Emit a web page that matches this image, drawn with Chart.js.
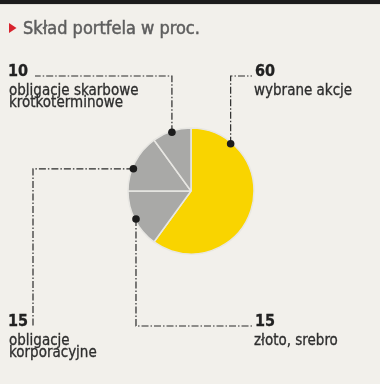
<!DOCTYPE html>
<html><head><meta charset="utf-8">
<script src="https://cdn.jsdelivr.net/npm/chart.js@4"></script>
<style>html,body{margin:0;padding:0;background:#f2f0eb;}canvas{display:block}</style>
</head><body>
<canvas id="c" width="380" height="384"></canvas>
<script>
const title = 'Skład portfela w proc.';
const categories = ['wybrane akcje', 'złoto, srebro', 'obligacje korporacyjne', 'obligacje skarbowe krótkoterminowe'];
const values = [60, 15, 15, 10];
const labelLines = [['wybrane akcje'], ['złoto, srebro'], ['obligacje', 'korporacyjne'], ['obligacje skarbowe', 'krótkoterminowe']];
const sliceColors = ['#f9d400', '#a9a9a7', '#a9a9a7', '#a9a9a7'];

const FONT = '"DejaVu Sans Condensed", "DejaVu Sans", sans-serif';
// layout of callouts (style/positions only)
const callouts = [
  {frac: 0.185, path: d => [[d.x, 76], [252, 76]], num: [255, 76], text: [254, 95]},
  {frac: 0.5, path: d => [[d.x, 326], [252, 326]], num: [255, 326], text: [254, 345]},
  {frac: 0.39, path: d => [[33, d.y], [33, 326]], num: [8, 326], text: [9, 345]},
  {frac: 0.5, path: d => [[d.x, 76], [35, 76]], num: [8, 76], text: [9, 95]}
];

function heavyText(c, s, x, y, w) {
  c.fillText(s, x, y);
  c.lineWidth = w;
  c.strokeStyle = c.fillStyle;
  c.strokeText(s, x, y);
}

const bgPlugin = {
  id: 'bg',
  beforeDraw(chart) {
    const c = chart.ctx;
    c.save();
    c.fillStyle = '#f2f0eb';
    c.fillRect(0, 0, chart.width, chart.height);
    c.fillStyle = '#1c1c1c';
    c.fillRect(0, 0, chart.width, 4);
    c.fillStyle = '#e0ded8';
    c.fillRect(0, 4, chart.width, 1);
    // title marker
    c.fillStyle = '#d8232d';
    c.beginPath();
    c.moveTo(9, 23); c.lineTo(16.5, 28); c.lineTo(9, 33); c.closePath();
    c.fill();
    c.fillStyle = '#5e5e5e';
    c.font = '18px ' + FONT;
    c.textBaseline = 'alphabetic';
    heavyText(c, title, 23, 34, 0.5);
    c.restore();
  }
};

const calloutPlugin = {
  id: 'callouts',
  afterDraw(chart) {
    const c = chart.ctx;
    const meta = chart.getDatasetMeta(0);
    c.save();
    meta.data.forEach((arc, i) => {
      const p = arc.getProps(['x', 'y', 'startAngle', 'endAngle', 'outerRadius'], true);
      const co = callouts[i];
      const a = p.startAngle + (p.endAngle - p.startAngle) * co.frac;
      const d = {x: p.x + Math.cos(a) * p.outerRadius * 0.98, y: p.y + Math.sin(a) * p.outerRadius * 0.98};
      // leader line
      c.strokeStyle = '#2a2a2a';
      c.lineWidth = 1.2;
      c.setLineDash([7, 2, 1.5, 2]);
      c.beginPath();
      c.moveTo(d.x, d.y);
      co.path(d).forEach(pt => c.lineTo(pt[0], pt[1]));
      c.stroke();
      c.setLineDash([]);
      // dot
      c.fillStyle = '#1c1c1c';
      c.beginPath();
      c.arc(d.x, d.y, 3.8, 0, Math.PI * 2);
      c.fill();
      // number
      c.fillStyle = '#222';
      c.font = 'bold 16px ' + FONT;
      c.textBaseline = 'alphabetic';
      heavyText(c, String(values[i]), co.num[0], co.num[1], 0.3);
      // text
      c.fillStyle = '#2e2e2e';
      c.font = '15px ' + FONT;
      labelLines[i].forEach((ln, k) => heavyText(c, ln, co.text[0], co.text[1] + k * 12, 0.3));
    });
    c.restore();
  }
};

new Chart(document.getElementById('c'), {
  type: 'pie',
  data: {
    labels: categories,
    datasets: [{data: values, backgroundColor: sliceColors, borderColor: '#e8e7e3', borderWidth: 1.5}]
  },
  options: {
    responsive: false,
    animation: false,
    radius: 63,
    layout: {padding: {left: 60, right: 58, top: 60, bottom: 62}},
    plugins: {legend: {display: false}, tooltip: {enabled: false}, title: {display: false}}
  },
  plugins: [bgPlugin, calloutPlugin]
});
</script>
</body></html>
